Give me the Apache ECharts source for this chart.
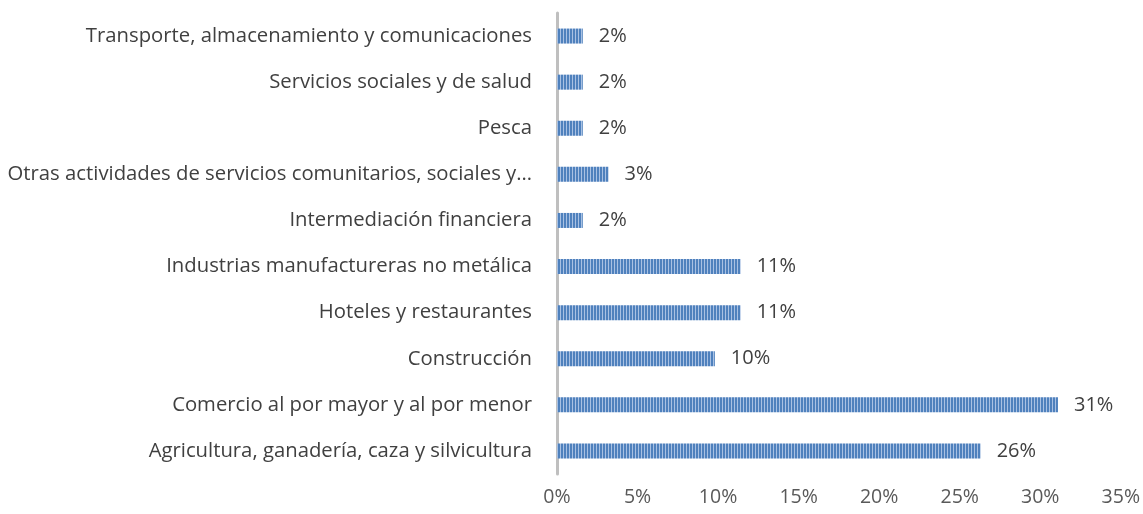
<!DOCTYPE html>
<html>
<head>
<meta charset="utf-8">
<script src="https://cdn.jsdelivr.net/npm/echarts@6/dist/echarts.min.js"></script>
<style>
  html, body { margin: 0; padding: 0; background: #fff; }
  #chart { width: 1143px; height: 514px; }
</style>
</head>
<body>
<div id="chart"></div>
<script>
// bottom to top, as the category axis draws them
const categories = [
  'Agricultura, ganadería, caza y silvicultura',
  'Comercio al por mayor y al por menor',
  'Construcción',
  'Hoteles y restaurantes',
  'Industrias manufactureras no metálica',
  'Intermediación financiera',
  'Otras actividades de servicios comunitarios, sociales y…',
  'Pesca',
  'Servicios sociales y de salud',
  'Transporte, almacenamiento y comunicaciones'
]
// shares in %
const shares = [26.3, 31.1, 9.8, 11.4, 11.4, 1.6, 3.2, 1.6, 1.6, 1.6]
const xTicks = [0, 5, 10, 15, 20, 25, 30, 35]

// vertical stripe fill like the original bars
function stripePattern() {
  const c = document.createElement('canvas')
  c.width = 3
  c.height = 4
  const ctx = c.getContext('2d')
  ctx.fillStyle = '#4f81bd'
  ctx.fillRect(0, 0, 2, 4)
  ctx.fillStyle = '#a9c1e3'
  ctx.fillRect(2, 0, 1, 4)
  return c
}

const chart = echarts.init(document.getElementById('chart'), null, { renderer: 'canvas' })
const font = '"Open Sans", "Noto Sans", sans-serif'

chart.setOption({
  animation: false,
  backgroundColor: '#fff',
  grid: { left: 557, right: 22, top: 13, bottom: 40, containLabel: false },
  xAxis: {
    type: 'value',
    min: xTicks[0],
    max: xTicks[xTicks.length - 1],
    interval: 5,
    axisLine: { show: false },
    axisTick: { show: false },
    splitLine: { show: false },
    axisLabel: {
      color: '#595959',
      fontFamily: font,
      fontSize: 19.5,
      margin: 13,
      formatter: v => v + '%'
    }
  },
  yAxis: {
    type: 'category',
    data: categories,
    axisLine: { show: true, lineStyle: { color: '#bfbfbf', width: 3 } },
    axisTick: { show: false },
    axisLabel: {
      color: '#404040',
      fontFamily: font,
      fontSize: 20.3,
      margin: 25
    }
  },
  series: [{
    type: 'bar',
    data: shares,
    barWidth: 15,
    itemStyle: { color: { image: stripePattern(), repeat: 'repeat' } },
    label: {
      show: true,
      position: 'right',
      distance: 16,
      color: '#404040',
      fontFamily: font,
      fontSize: 20,
      formatter: p => Math.round(p.value) + '%'
    }
  }]
})
</script>
</body>
</html>
